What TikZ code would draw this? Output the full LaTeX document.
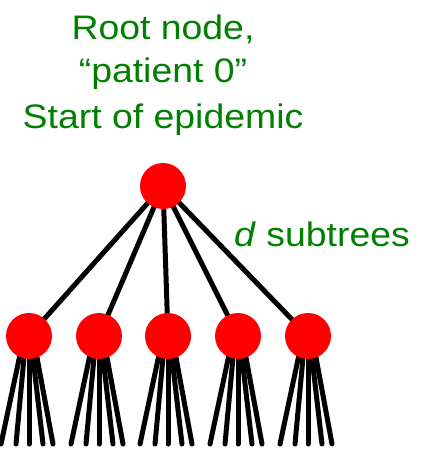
\documentclass[tikz,border=0pt]{standalone}
\usepackage{fontspec}
\setmainfont{Liberation Sans}
\newfontfamily\capfont[FakeStretch=1.1]{Liberation Sans}
\pgfdeclarelayer{background}
\pgfsetlayers{background,main}
\begin{document}
\begin{tikzpicture}[x=1pt,y=-1pt,
  infected/.style={circle, fill=red, minimum size=46pt, inner sep=0pt, outer sep=0pt},
  link/.style={line width=5pt, line cap=round, draw=black},
  caption/.style={text=green!50!black, inner sep=0pt, anchor=base,
                  font=\capfont\fontsize{34}{41}\selectfont}]
\useasboundingbox (0,0) rectangle (426,450);

% title lines
\node[caption] (t1) at (163,39.5) {Root node,};
\node[caption] (t2) at (163,82.5) {“patient 0”};
\node[caption] (t3) at (163,128) {Start of epidemic};

% patient zero and the first generation
\node[infected] (r) at (163,186) {};
\foreach \i/\x in {1/29,2/99,3/168,4/238,5/308}
  \node[infected] (c\i) at (\x,336) {};

\node[caption, anchor=base west] (sub) at (234,246) {\textit{d} subtrees};

\begin{pgfonlayer}{background}
  \foreach \i in {1,...,5}
    \draw[link] (r.center) -- (c\i.center);
  % each child fans out into five further contacts
  \foreach \i in {1,...,5}
    \foreach \s/\e [count=\j] in {-5/-28, -3/-13, 0/0, 1.5/14, 4/24} {
      \coordinate (l\i\j) at ([xshift=\e pt, yshift=-108pt]c\i.center);
      \draw[link] ([xshift=\s pt]c\i.center) -- (l\i\j);
    }
\end{pgfonlayer}
\end{tikzpicture}
\end{document}
